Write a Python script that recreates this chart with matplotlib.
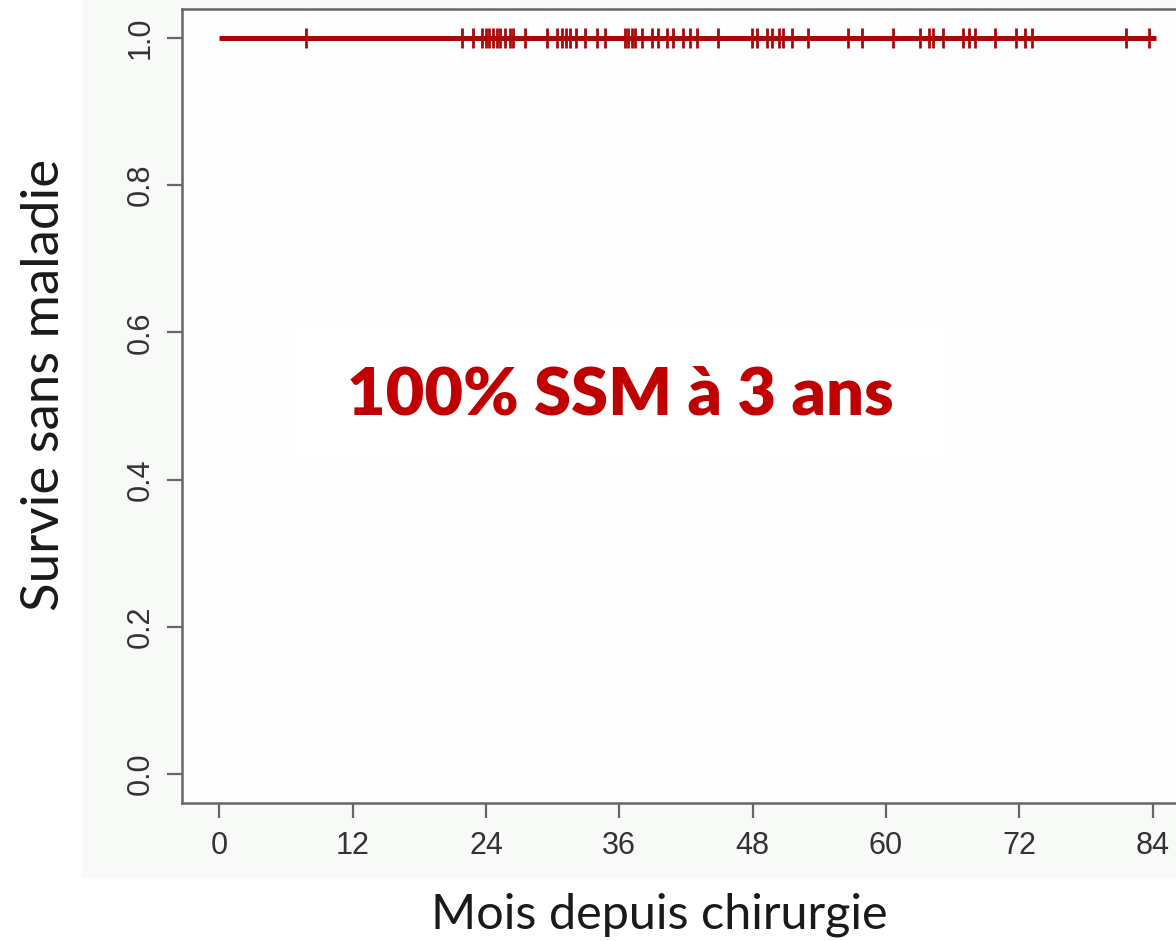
import matplotlib
matplotlib.use("Agg")
import matplotlib.pyplot as plt
from matplotlib.patches import Rectangle

# ---- data ----
censor_times = [7.8, 21.8, 22.8, 23.6, 24.0, 24.3, 24.6, 25.0, 25.3, 25.7, 26.2, 26.4,
                27.5, 29.5, 30.4, 30.8, 31.2, 31.6, 32.1, 32.9, 34.0, 34.7,
                36.5, 36.8, 37.1, 37.4, 38.0, 38.9, 39.5, 40.3, 40.8, 41.7, 42.4, 43.0,
                44.9, 47.9, 48.4, 49.3, 49.7, 50.4, 50.7, 51.5, 53.0,
                56.6, 57.8, 60.6, 63.1, 63.9, 64.2, 65.1, 66.9, 67.5, 68.0, 69.8,
                71.7, 72.5, 73.1, 81.6, 83.7]
survival = [1.0] * len(censor_times)
x_ticks = [0, 12, 24, 36, 48, 60, 72, 84]
y_ticks = [0.0, 0.2, 0.4, 0.6, 0.8, 1.0]
y_tick_labels = ["0.0", "0.2", "0.4", "0.6", "0.8", "1.0"]
annotation = "100% SSM à 3 ans"
x_label = "Mois depuis chirurgie"
y_label = "Survie sans maladie"

W, H = 1176, 941
fig = plt.figure(figsize=(W / 100, H / 100), dpi=100)
fig.patch.set_facecolor("white")

# light background panel behind everything
bg = fig.add_axes([82 / W, (H - 878) / H, 1 - 82 / W, 878 / H], zorder=-10)
bg.set_facecolor("#F8FAF8")
bg.set_xticks([])
bg.set_yticks([])
for s in bg.spines.values():
    s.set_visible(False)

left = 182 / W
right = 1190 / W
bottom = (H - 803.4) / H
top = (H - 8.6) / H
ax = fig.add_axes([left, bottom, right - left, top - bottom], zorder=1)
ax.set_facecolor("#FDFEFD")

line_color = "#AA0808"
# KM curve (flat at 1.0)
ax.step([0] + censor_times + [84.3], [1.0] + survival + [1.0], where="post",
        color=line_color, lw=3.6, solid_capstyle="butt", zorder=3)
ax.plot(censor_times, survival, linestyle="none", marker="|", markersize=15,
        markeredgewidth=2.0, color=line_color, zorder=4)

ax.set_xlim(-3.36, 87.36)
ax.set_ylim(-0.04, 1.04)

ax.set_xticks(x_ticks)
ax.set_xticklabels([str(t) for t in x_ticks])
ax.set_yticks(y_ticks)
ax.set_yticklabels(y_tick_labels, rotation=90, va="center")

for lab in ax.get_xticklabels() + ax.get_yticklabels():
    lab.set_fontfamily("Liberation Sans")
    lab.set_fontsize(22)
    lab.set_color("#333333")
ax.tick_params(axis="both", direction="out", length=11, width=1.6, color="#666666")
ax.tick_params(axis="x", pad=9)
ax.tick_params(axis="y", pad=8)

for side in ["left", "bottom", "top", "right"]:
    ax.spines[side].set_color("#666666")
    ax.spines[side].set_linewidth(1.8)

ax.set_xlabel(x_label, family="Lato", size=35, color="#1A1A1A", va="center")
ax.xaxis.set_label_coords((659 - 182) / 1008, (803.4 - 915) / 794.8)
ax.set_ylabel(y_label, family="Lato", size=38, color="#1A1A1A", va="center")
ax.yaxis.set_label_coords((45 - 182) / 1008, (803.4 - 385) / 794.8)

# annotation box
ax.add_patch(Rectangle(((293 - 182) / 1008, (803.4 - 460) / 794.8), 652 / 1008, 135 / 794.8,
                       transform=ax.transAxes, facecolor="white", edgecolor="none", zorder=2))
ax.text((620 - 182) / 1008, (803.4 - 395) / 794.8, annotation, transform=ax.transAxes,
        ha="center", va="center", family="Lato", weight="heavy", size=48,
        color="#C00000", zorder=5)

fig.savefig("out.png", dpi=100)
